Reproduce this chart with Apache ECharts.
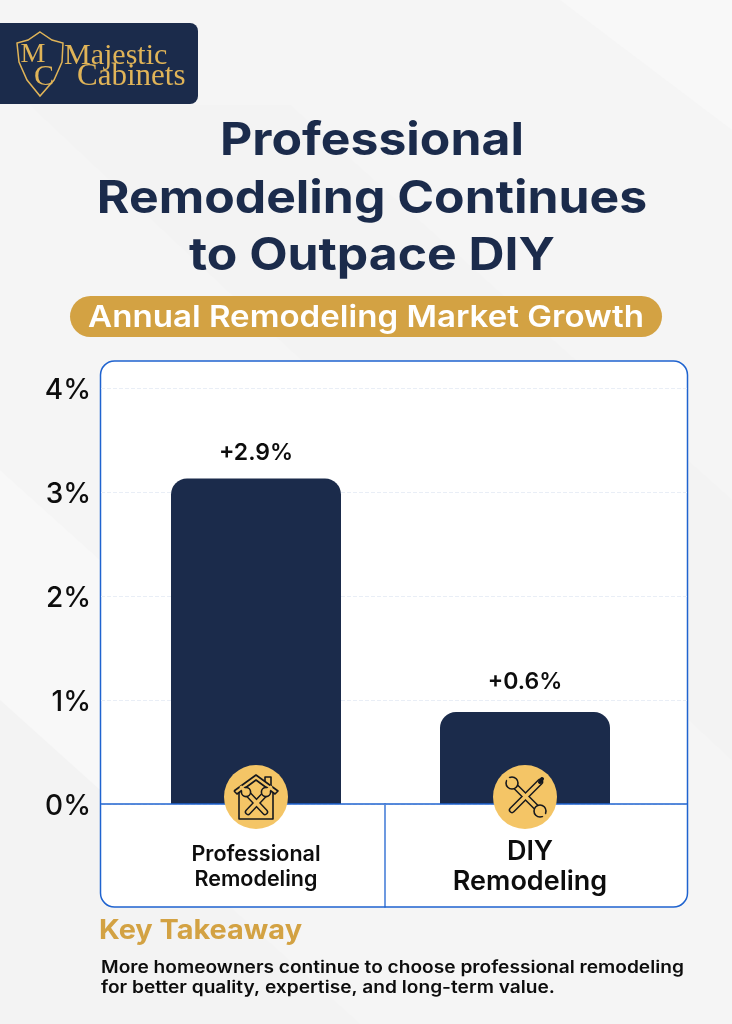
<!DOCTYPE html>
<html>
<head>
<meta charset="utf-8">
<style>html,body{margin:0;padding:0;background:#f5f5f5}#c{width:732px;height:1024px}</style>
<script src="https://cdn.jsdelivr.net/npm/echarts@6/dist/echarts.min.js"></script>
</head>
<body>
<div id="c"></div>
<script>
const categories = ['Professional\nRemodeling', 'DIY\nRemodeling'];
const barHeights = [3.13, 0.885];
const barLabels = ['+2.9%', '+0.6%'];
const yTicks = ['0%', '1%', '2%', '3%', '4%'];
const titleText = 'Professional\nRemodeling Continues\nto Outpace DIY';
const subtitleText = 'Annual Remodeling Market Growth';
const takeawayHead = 'Key Takeaway';
const takeawayBody = 'More homeowners continue to choose professional remodeling\nfor better quality, expertise, and long-term value.';

const NAVY = '#1b2b4b', GOLD = '#d3a243', ICON = '#f4c566', BLUE = '#1f63cf', SANS = 'Inter, "Open Sans", sans-serif';

function poly(points, fill, z) {
  return {type: 'polygon', z: z, silent: true, shape: {points}, style: {fill}};
}
function ln(x1, y1, x2, y2, w, color, z) {
  return {type: 'line', z: z, silent: true, shape: {x1, y1, x2, y2}, style: {stroke: color, lineWidth: w, lineCap: 'round'}};
}
function txt(x, y, text, font, fill, align, z, lh, sx) {
  return {type: 'text', x, y, z: z, scaleX: sx || 1, silent: true, style: {text, font, fill, align: align || 'left', verticalAlign: 'middle', lineHeight: lh}};
}
function tool(cx, x1, y1, x2, y2, z) {
  return [ln(cx + x1, 797 + y1, cx + x2, 797 + y2, 6.5, '#16181d', z), ln(cx + x1, 797 + y1, cx + x2, 797 + y2, 3.6, ICON, z + 1)];
}
function wrenchHead(x, y, dx, dy, r) {
  return [
    {type: 'circle', z: 53, silent: true, shape: {cx: x, cy: y, r: r}, style: {fill: ICON, stroke: '#16181d', lineWidth: 1.6}},
    ln(x, y, x + dx * (r + 2), y + dy * (r + 2), 3.4, ICON, 54)
  ];
}
function houseIcon(cx) {
  const y = 797, c = '#16181d', z = 50;
  const line = (pts, w) => ({type: 'polyline', z: z + 3, silent: true, shape: {points: pts.map(p => [cx + p[0], y + p[1]])}, style: {stroke: c, lineWidth: w || 1.6, fill: null, lineJoin: 'round'}});
  return [
    {type: 'circle', z: z, silent: true, shape: {cx, cy: y, r: 32}, style: {fill: ICON}},
    line([[-22, -6], [0, -22], [22, -6], [19, -3], [0, -17], [-19, -3], [-22, -6]]),
    line([[-17, -5], [-17, 22], [17, 22], [17, -5]]),
    line([[9, -16], [9, -20], [15, -20], [15, -11]]),
    ...tool(cx, -8, -3, 9, 15, 51), ...tool(cx, 9, -3, -8, 15, 51),
    ...wrenchHead(cx - 10, y - 5, -0.7, -0.7, 4.6),
    ...wrenchHead(cx + 10, y - 5, 0.7, -0.7, 4.6)
  ];
}
function toolsIcon(cx) {
  const y = 797, c = '#16181d', z = 50;
  return [
    {type: 'circle', z: z, silent: true, shape: {cx, cy: y, r: 32}, style: {fill: ICON}},
    ...tool(cx, -12, -13, 15, 14, 51), ...tool(cx, 15, -15, -13, 13, 51),
    ...wrenchHead(cx - 13, y - 14, -0.7, -0.7, 6),
    ...wrenchHead(cx + 15, y + 14, 0.7, 0.7, 6),
    ln(cx + 15, y - 15, cx + 17, y - 18, 4, c, z + 3)
  ];
}

const bg = [
  {type: 'rect', z: -30, silent: true, shape: {x: 0, y: 0, width: 732, height: 1024}, style: {fill: '#f5f5f5'}},
  poly([[30, 105], [290, 105], [732, 500], [732, 760], [280, 340]], '#f3f3f3', -29),
  poly([[0, 470], [100, 560], [100, 880], [0, 780]], '#f8f8f8', -29),
  poly([[0, 700], [360, 1024], [0, 1024]], '#f3f3f3', -29),
  poly([[560, 0], [732, 0], [732, 130]], '#f8f8f8', -29)
];
const panel = [
  {type: 'rect', z: -5, silent: true, shape: {x: 100.5, y: 361, width: 587, height: 546, r: 14}, style: {fill: '#fff', stroke: BLUE, lineWidth: 1.5}},
  ln(385, 804, 385, 907, 1.3, BLUE, -4),
  {type: 'line', z: 10, silent: true, shape: {x1: 101, y1: 804, x2: 688, y2: 804}, style: {stroke: BLUE, lineWidth: 1.3}}
];
const logo = [
  {type: 'rect', z: 5, silent: true, shape: {x: -20, y: 23, width: 218, height: 81, r: 8}, style: {fill: NAVY}},
  {type: 'polygon', z: 6, silent: true, shape: {points: [[40, 32], [52, 40], [63, 43], [62, 62], [54, 80], [40, 96], [27, 80], [19, 62], [17, 43], [28, 40]]}, style: {fill: NAVY, stroke: '#e0b458', lineWidth: 1.5}},
  txt(33, 55, 'M', '28px "Liberation Serif"', '#e0b458', 'center', 7),
  txt(44, 77, 'C', '30px "Liberation Serif"', '#e0b458', 'center', 7),
  txt(64, 56, 'Majestic', '30px "Liberation Serif"', '#e0b458', 'left', 7),
  txt(77, 77, 'Cabinets', '31px "Liberation Serif"', '#e0b458', 'left', 7)
];
const heading = [
  txt(372, 199, titleText, '700 45px ' + SANS, NAVY, 'center', 6, 57.5, 1.108)
];
const pill = [
  {type: 'rect', z: 5, silent: true, shape: {x: 70, y: 296, width: 592, height: 41, r: 20.5}, style: {fill: GOLD}},
  txt(366, 318, subtitleText, '600 30px ' + SANS, '#fff', 'center', 6, null, 1.103)
];
const foot = [
  txt(99, 931, takeawayHead, '700 27px ' + SANS, GOLD, 'left', 6, null, 1.07),
  txt(101, 978, takeawayBody, '600 17px ' + SANS, '#0d0d0d', 'left', 6, 20, 1.125)
];

const chart = echarts.init(document.getElementById('c'), null, {renderer: 'canvas'});
chart.setOption({
  animation: false,
  graphic: [...bg, ...panel, ...logo, ...heading, ...pill, ...foot, ...houseIcon(256), ...toolsIcon(525)],
  grid: [
    {left: 101, width: 587, top: 388, height: 416},
    {left: 121.5, width: 538, top: 388, height: 416}
  ],
  xAxis: [
    {type: 'category', gridIndex: 0, data: [''], axisLine: {show: false}, axisTick: {show: false}, axisLabel: {show: false}},
    {
      type: 'category', gridIndex: 1,
      data: [
        {value: categories[0], textStyle: {fontSize: 21.5, lineHeight: 25, padding: [5, 0, 0, 0]}},
        {value: categories[1], textStyle: {fontSize: 27, lineHeight: 30, padding: [0, 0, 0, 10]}}
      ],
      axisLine: {show: false}, axisTick: {show: false},
      axisLabel: {color: '#0d0d0d', fontFamily: SANS, fontWeight: 600, margin: 33, interval: 0}
    }
  ],
  yAxis: [
    {
      type: 'value', gridIndex: 0, min: 0, max: 4, interval: 1,
      axisLine: {show: false}, axisTick: {show: false},
      splitLine: {lineStyle: {color: '#e9eef6', type: 'dashed', width: 1}},
      axisLabel: {color: '#0d0d0d', fontFamily: SANS, fontWeight: 500, fontSize: 28, margin: 10, verticalAlign: 'top', lineHeight: 6, formatter: v => yTicks[v]}
    },
    {type: 'value', gridIndex: 1, min: 0, max: 4, interval: 1, show: false}
  ],
  series: [
    {type: 'bar', xAxisIndex: 0, yAxisIndex: 0, data: [], silent: true},
    {
      type: 'bar', xAxisIndex: 1, yAxisIndex: 1, barWidth: 170,
      itemStyle: {color: NAVY, borderRadius: [16, 16, 0, 0]},
      data: barHeights.map((v, i) => ({
        value: v,
        label: {distance: i === 0 ? 14 : 18, formatter: barLabels[i]}
      })),
      label: {show: true, position: 'top', color: '#0d0d0d', fontFamily: SANS, fontWeight: 600, fontSize: 23}
    }
  ]
});
</script>
</body>
</html>
